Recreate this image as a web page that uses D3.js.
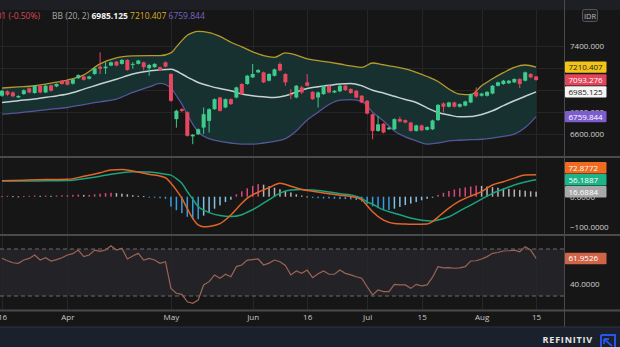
<!DOCTYPE html>
<html><head><meta charset="utf-8">
<script src="https://cdn.jsdelivr.net/npm/d3@7"></script>
<style>
html,body{margin:0;padding:0;background:#161616;overflow:hidden}
svg{display:block;font-family:"Open Sans","Noto Sans",sans-serif}
</style></head><body>
<svg id="c" width="620" height="347"></svg>
<script>
// ---------- DATA ----------
const tickIdx    = [0, 12, 31, 46, 56, 67, 77, 88, 98];
const tickLabels = ["16", "Apr", "May", "Jun", "16", "Jul", "15", "Aug", "15"];

const open  = [6950,6990,6980,6935,6965,7018,6975,7040,6980,7045,7035,7087,7090,7060,7110,7125,7105,7148,7215,7200,
               7225,7260,7240,7276,7235,7240,7254,7200,7210,7210,7254,7148,6737,6828,6800,6580,6600,6660,6721,6828,
               6934,6843,6919,6934,7057,7057,7117,7163,7163,7087,7132,7239,7148,6965,6934,7026,7072,6985,6934,6965,
               7041,6980,6990,7041,7011,6995,6950,6904,6782,6630,6695,6645,6645,6737,6728,6706,6630,6680,6640,6645,
               6728,6880,6850,6889,6850,6860,6889,6985,6950,6950,6970,7041,7057,7064,7072,7102,7087,7148,7125];
const close = [6995,6960,6945,6948,7000,6980,7041,6980,7041,6995,7057,7057,7050,7100,7138,7095,7125,7200,7195,7215,
               7254,7225,7276,7185,7240,7270,7210,7230,7240,7185,7215,6904,6813,6812,6585,6595,6645,6782,6828,6919,
               6813,6919,6874,7026,6965,7132,7148,7184,7072,7148,7190,7180,7072,6955,7041,6980,7041,6919,6980,7041,
               6980,6995,7041,7000,6975,6934,6889,6788,6630,6690,6615,6660,6737,6715,6706,6630,6680,6635,6665,6725,
               6867,6850,6889,6850,6874,6898,6965,6945,6970,6985,7041,7072,7087,7087,7102,7057,7163,7117,7093.276];
const high  = [7005,7000,6990,6955,7008,7025,7048,7046,7048,7050,7062,7092,7096,7106,7145,7130,7132,7206,7345,7254,
               7262,7266,7284,7282,7255,7277,7260,7240,7246,7216,7262,7155,6822,6838,6808,6602,6652,6843,6836,6926,
               6940,6926,6926,7033,7064,7140,7239,7192,7170,7155,7197,7254,7155,7011,7048,7041,7148,6992,6988,7048,
               7048,7002,7048,7048,7018,7002,6957,6911,6789,6767,6702,6667,6744,6760,6735,6713,6687,6687,6672,6732,
               6874,6889,6896,6896,6881,6905,6972,7026,6977,6992,7048,7079,7094,7094,7109,7109,7170,7155,7132];
const low   = [6940,6950,6935,6928,6958,6972,6968,6972,6975,6988,7028,7050,7044,7052,7104,7088,7098,7140,7148,7148,
               7218,7218,7234,7178,7195,7234,7180,7132,7204,7178,7208,6895,6660,6802,6578,6509,6592,6600,6615,6820,
               6806,6836,6866,6926,6958,7050,7110,7156,7065,7080,7125,7172,7041,6919,6926,6965,7034,6912,6843,6958,
               6973,6973,6983,6993,6968,6927,6882,6781,6554,6623,6608,6638,6638,6708,6699,6623,6623,6628,6633,6638,
               6721,6798,6843,6843,6843,6853,6882,6934,6943,6943,6963,7034,7050,7057,7065,7020,7080,7110,7086];

// Bollinger Bands (20, 2), read at these candle positions
const bbIdx    = [0,3,6,9,12,15,18,21,24,27,29,31,32,33,34,35,36,38,40,42,44,46,48,50,52,54,56,58,60,62,64,66,68,70,72,74,76,78,80,82,84,86,88,90,92,94,96,98];
const bbUpper  = [7020,7030,7041,7065,7093,7140,7240,7295,7312,7316,7315,7340,7395,7452,7500,7525,7535,7525,7490,7437,7395,7350,7315,7300,7340,7320,7285,7270,7255,7239,7222,7208,7248,7232,7215,7195,7163,7125,7080,7011,6965,6960,7041,7105,7160,7208,7230,7210.407];
const bbMiddle = [6889,6905,6920,6942,6965,7010,7057,7100,7148,7175,7187,7190,7175,7148,7120,7095,7071,7040,7015,6995,6965,6950,6940,6934,6950,6985,7015,7032,7045,7057,7062,7041,7000,6975,6945,6915,6889,6840,6797,6775,6758,6760,6780,6813,6860,6904,6945,6985.125];
const bbLower  = [6783,6795,6810,6828,6843,6870,6895,6920,6980,7030,7062,7020,6950,6874,6780,6691,6620,6560,6535,6520,6510,6510,6520,6535,6560,6630,6730,6800,6870,6910,6915,6898,6800,6721,6630,6575,6540,6509,6520,6539,6545,6550,6554,6565,6580,6600,6660,6759.844];

// MACD (12, 26, 9)
const macdIdx    = [0,4,8,12,15,18,20,22,24,27,30,31,32,33,34,35,36,37,38,40,42,44,45,47,49,51,53,55,57,60,62,64,66,67,68,70,72,74,76,78,79,80,82,84,86,88,90,92,94,96,98];
const macdLine   = [53,55,57,58,68,80,89,91,86,75,63,45,22,-5,-40,-72,-94,-100,-99,-90,-61,-22,-5,15,30,45,35,24,18,10,5,1,-10,-30,-50,-78,-89,-91,-92,-91,-83,-68,-38,-14,2,17,39,50,62,72,72.8772];
const signalLine = [52,52,53,54,60,68,75,80,83,82,75,72,60,45,17,-8,-33,-45,-53,-63,-66,-60,-52,-33,-10,12,22,24,22,16,10,6,-5,-17,-25,-44,-55,-66,-75,-80,-81,-78,-67,-47,-28,-8,11,25,39,49,56.1887];
const histogram  = [2,3,2,1,2,3,4,3,4,3,4,5,5,6,7,6,6,8,10,12,
                    13,12,10,8,5,3,2,-1,-3,-5,-7,-33,-45,-55,-67,-75,-75,-63,-52,-40,
                    -29,-18,-10,8,18,28,36,42,40,35,30,25,19,14,8,4,1,-4,-5,-6,
                    -6,-7,-8,-8,-9,-11,-16,-24,-32,-38,-43,-44,-40,-34,-28,-23,-18,-12,-7,-2,
                    6,13,19,24,28,31,34,37,36,34,32,30,28,26,24,22,20,18,16.6884];

// RSI (14)
const rsi = [62.1,60,58.3,57.8,60.6,62,64.9,60.6,62.6,59.8,61,62.6,64.9,66,69.1,63.5,64.9,69.1,68,69.1,
             72.8,69.1,70.6,61.5,64,66.3,60.6,62,60.6,57.8,59.2,36.5,32.3,31.4,25.1,23.8,26.6,39.4,42.2,47.9,
             45.1,48.5,46.4,55,56.4,60.6,61,61.5,56.4,58,60.6,59.2,56,47.9,51.3,49.3,52.1,45.6,49,51.3,
             48.5,48.5,52.1,49.3,48,46.4,45.1,37.9,30.9,35.1,33.7,33.7,39.9,39.4,39.4,36.5,39.9,38.7,39.4,46,
             55,54,54.2,53.6,54,55,59.8,60,61.5,63.5,66.3,67,68.3,68.5,69.1,67.7,72,69.1,61.9526];

const priceGrid   = [6600, 6800, 7000, 7200, 7400];
const priceLabels = [6600, 6800, 7400];      // 7000 / 7200 sit under the value tags
const macdLabels  = [-100, 0];
const rsiLabels   = [40];
const legendChange = "-36.001 (-0.50%)";

// ---------- DRAW ----------
const svg = d3.select("#c");
const AX = 564;
const P = {top:10, bot:156}, M = {top:158, bot:234}, R = {top:236, bot:310};

const x  = d3.scaleLinear().domain([0, 98]).range([2, 536.1]);
const yP = d3.scaleLinear().domain([6600, 7400]).range([134.2, 46.3]);
const yM = d3.scaleLinear().domain([-100, 0]).range([226.7, 196.7]);
const yR = d3.scaleLinear().domain([30, 70]).range([296, 249]);

svg.append("rect").attr("width",620).attr("height",347).attr("fill","#161616");
svg.append("rect").attr("width",620).attr("height",P.top).attr("fill","#1d1f24");
svg.append("rect").attr("y",327).attr("width",620).attr("height",20).attr("fill","#1b212c");

const defs = svg.append("defs");
[["cp",P],["cm",M],["cr",R]].forEach(([id,p])=>{
  defs.append("clipPath").attr("id",id).append("rect")
    .attr("x",0).attr("y",p.top).attr("width",AX).attr("height",p.bot-p.top);
});

svg.append("rect").attr("x",0).attr("y",yR(70)).attr("width",AX).attr("height",yR(30)-yR(70)).attr("fill","#232327");

const grid = svg.append("g").attr("stroke","#262628").attr("stroke-width",1);
tickIdx.forEach(t=>grid.append("line").attr("x1",Math.round(x(t))+0.5).attr("x2",Math.round(x(t))+0.5).attr("y1",P.top).attr("y2",R.bot));
priceGrid.forEach(v=>grid.append("line").attr("x1",0).attr("x2",AX).attr("y1",Math.round(yP(v))+0.5).attr("y2",Math.round(yP(v))+0.5));

const sep = svg.append("g").attr("stroke","#4a4a4c").attr("stroke-width",2);
[157, 235, 310.5].forEach(y=>sep.append("line").attr("x1",0).attr("x2",620).attr("y1",y).attr("y2",y));
svg.append("line").attr("x1",AX+0.5).attr("x2",AX+0.5).attr("y1",0).attr("y2",327).attr("stroke","#4a4a4c");
svg.append("line").attr("x1",0).attr("x2",620).attr("y1",327).attr("y2",327).attr("stroke","#2c3240");

// ---- price panel ----
const gp = svg.append("g").attr("clip-path","url(#cp)");
const bb = bbIdx.map((d,i)=>({i:d,u:bbUpper[i],m:bbMiddle[i],l:bbLower[i]}));
const curve = d3.curveMonotoneX;
gp.append("path").datum(bb).attr("fill","#173232").attr("fill-opacity",0.95)
  .attr("d",d3.area().curve(curve).x(d=>x(d.i)).y0(d=>yP(d.l)).y1(d=>yP(d.u)));
gp.append("path").datum(bb).attr("fill","none").attr("stroke","#b59a2c").attr("stroke-width",1.3)
  .attr("d",d3.line().curve(curve).x(d=>x(d.i)).y(d=>yP(d.u)));
gp.append("path").datum(bb).attr("fill","none").attr("stroke","#55569a").attr("stroke-width",1.3)
  .attr("d",d3.line().curve(curve).x(d=>x(d.i)).y(d=>yP(d.l)));
gp.append("path").datum(bb).attr("fill","none").attr("stroke","#c4d2d2").attr("stroke-width",1.5)
  .attr("d",d3.line().curve(curve).x(d=>x(d.i)).y(d=>yP(d.m)));

const candles = open.map((o,i)=>({i,o,c:close[i],h:high[i],l:low[i]}));
const up = "#3ecb8c", dn = "#e8485f";
const cg = gp.append("g");
cg.selectAll("line").data(candles).join("line")
  .attr("x1",d=>x(d.i)).attr("x2",d=>x(d.i)).attr("y1",d=>yP(d.h)).attr("y2",d=>yP(d.l))
  .attr("stroke",d=>d.c>=d.o?up:dn).attr("stroke-width",1);
cg.selectAll("rect").data(candles).join("rect")
  .attr("x",d=>x(d.i)-2).attr("width",4)
  .attr("y",d=>yP(Math.max(d.o,d.c))).attr("height",d=>Math.max(1,Math.abs(yP(d.o)-yP(d.c))))
  .attr("fill",d=>d.c>=d.o?up:dn);

// ---- MACD panel ----
const gm = svg.append("g").attr("clip-path","url(#cm)");
const hist = histogram.map((v,i)=>({i,v,p:i>0?histogram[i-1]:v}));
gm.selectAll("rect").data(hist).join("rect")
  .attr("x",d=>x(d.i)-0.75).attr("width",1.5)
  .attr("y",d=>Math.min(yM(d.v),yM(0))).attr("height",d=>Math.max(1,Math.abs(yM(d.v)-yM(0))))
  .attr("fill",d=> d.v>=0 ? (d.v>=d.p?"#d9487c":"#b9b3b8") : (d.v<=d.p?"#3a9bdc":"#86bfe0"));
const md = macdIdx.map((d,i)=>({i:d,m:macdLine[i],s:signalLine[i]}));
gm.append("path").datum(md).attr("fill","none").attr("stroke","#1aa37c").attr("stroke-width",1.5)
  .attr("d",d3.line().curve(curve).x(d=>x(d.i)).y(d=>yM(d.s)));
gm.append("path").datum(md).attr("fill","none").attr("stroke","#e0652a").attr("stroke-width",1.5)
  .attr("d",d3.line().curve(curve).x(d=>x(d.i)).y(d=>yM(d.m)));

// ---- RSI panel ----
const gr = svg.append("g").attr("clip-path","url(#cr)");
[70,30].forEach(v=>gr.append("line").attr("x1",0).attr("x2",AX).attr("y1",yR(v)).attr("y2",yR(v))
  .attr("stroke","#6a6a6e").attr("stroke-dasharray","4,3").attr("stroke-width",1));
gr.append("path").datum(rsi).attr("fill","none").attr("stroke","#9c6356").attr("stroke-width",1.2)
  .attr("d",d3.line().x((d,i)=>x(i)).y(d=>yR(d)));

// ---- axes ----
const fmt3 = d3.format(".3f"), fmt4 = d3.format(".4f");
function rightAxis(scale, ticks, f){
  const g = svg.append("g").attr("transform",`translate(${AX+6},0)`)
    .call(d3.axisRight(scale).tickValues(ticks).tickFormat(f).tickSize(0).tickPadding(0));
  g.select(".domain").remove();
  g.selectAll("text").attr("fill","#d2d2d2").attr("font-size",8).attr("font-family","Open Sans, sans-serif");
  return g;
}
rightAxis(yP, priceLabels, fmt3);
rightAxis(yM, macdLabels, fmt4);
rightAxis(yR, rsiLabels, fmt4);

const xa = svg.append("g").attr("transform","translate(0,311)")
  .call(d3.axisBottom(x).tickValues(tickIdx).tickFormat((d,i)=>tickLabels[i]).tickSize(0).tickPadding(3));
xa.select(".domain").remove();
xa.selectAll("text").attr("fill","#c8c8c8").attr("font-size",8).attr("font-family","Open Sans, sans-serif");

// ---- value labels ----
function labels(items, scale, f){
  const arr = items.map(d=>({...d, y:scale(d.v)})).sort((a,b)=>b.y-a.y);
  for(let k=1;k<arr.length;k++) arr[k].y = Math.min(arr[k].y, arr[k-1].y-12);
  arr.forEach(d=>{
    const g = svg.append("g").attr("transform",`translate(${AX+1},${d.y})`);
    g.append("rect").attr("x",0).attr("y",-5.7).attr("width",41.5).attr("height",11.4).attr("rx",1).attr("fill",d.bg);
    g.append("text").attr("x",3.5).attr("y",3).attr("font-size",8).attr("fill",d.fg).text(f(d.v));
  });
}
labels([{v:bbUpper[bbUpper.length-1],bg:"#f2c318",fg:"#222"},
        {v:close[close.length-1],bg:"#e2445b",fg:"#fff"},
        {v:bbMiddle[bbMiddle.length-1],bg:"#f4f4f4",fg:"#222"}], yP, fmt3);
labels([{v:bbLower[bbLower.length-1],bg:"#7c5ccf",fg:"#fff"}], yP, fmt3);
labels([{v:macdLine[macdLine.length-1],bg:"#f06a1f",fg:"#fff"},
        {v:signalLine[signalLine.length-1],bg:"#1db48a",fg:"#fff"},
        {v:histogram[histogram.length-1],bg:"#a9a9a9",fg:"#fff"}], yM, fmt4);
labels([{v:rsi[rsi.length-1],bg:"#cf6548",fg:"#fff"}], yR, fmt4);

svg.append("rect").attr("x",582.5).attr("y",9.5).attr("width",15).attr("height",12).attr("rx",2)
  .attr("fill","#1f1f22").attr("stroke","#555");
svg.append("text").attr("x",590).attr("y",18.5).attr("text-anchor","middle").attr("font-size",7.5).attr("fill","#bbb").text("IDR");

// ---- legend ----
svg.append("text").attr("x",40).attr("y",19).attr("font-size",8.5).attr("text-anchor","end")
  .attr("fill","#d9475e").text(`${fmt3(close[close.length-1])} ${legendChange}`);
const leg = svg.append("text").attr("x",52).attr("y",19).attr("font-size",8.5);
leg.append("tspan").attr("fill","#a8a8a8").text("BB (20, 2)  ");
leg.append("tspan").attr("fill","#f0f0f0").attr("font-weight","bold").text(fmt3(bbMiddle[bbMiddle.length-1])+"  ");
leg.append("tspan").attr("fill","#d9ad2c").text(fmt3(bbUpper[bbUpper.length-1])+"  ");
leg.append("tspan").attr("fill","#7a64c8").text(fmt3(bbLower[bbLower.length-1]));

// ---- footer ----
svg.append("text").attr("x",593).attr("y",343).attr("text-anchor","end").attr("font-size",9)
  .attr("font-weight","bold").attr("letter-spacing",0.8).attr("fill","#e6e6e6").text("REFINITIV");
const logo = svg.append("g").attr("fill","none").attr("stroke","#2a55e8").attr("stroke-width",2);
logo.append("path").attr("d","M601,335 H615 V347 M601,335 V347");
logo.append("path").attr("d","M612,346 L604,339 M604,339 V344 M604,339 H609").attr("stroke-width",1.8);
</script>
</body></html>
